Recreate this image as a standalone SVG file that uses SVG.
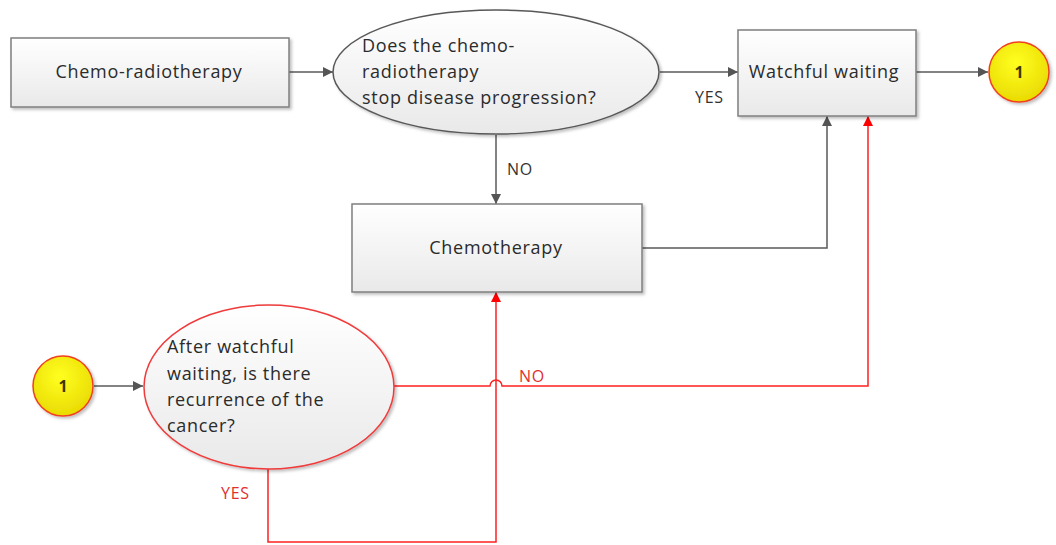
<svg xmlns="http://www.w3.org/2000/svg" width="1056" height="545" viewBox="0 0 1056 545">
  <defs>
    <linearGradient id="boxFill" x1="0" y1="0" x2="0" y2="1">
      <stop offset="0" stop-color="#ffffff"/>
      <stop offset="1" stop-color="#e9e9e9"/>
    </linearGradient>
    <radialGradient id="ballFill" cx="0.45" cy="0.35" r="0.7">
      <stop offset="0" stop-color="#ffff20"/>
      <stop offset="1" stop-color="#e8d800"/>
    </radialGradient>
    <filter id="shadow" x="-10%" y="-10%" width="130%" height="130%">
      <feDropShadow dx="2" dy="2" stdDeviation="1.5" flood-color="#000" flood-opacity="0.25"/>
    </filter>
    <marker id="arrGray" viewBox="0 0 10 10" refX="10" refY="5" markerWidth="10" markerHeight="10" markerUnits="userSpaceOnUse" orient="auto">
      <path d="M0,0 L10,5 L0,10 z" fill="#555"/>
    </marker>
    <marker id="arrRed" viewBox="0 0 10 10" refX="10" refY="5" markerWidth="10" markerHeight="10" markerUnits="userSpaceOnUse" orient="auto">
      <path d="M0,0 L10,5 L0,10 z" fill="#ff0000"/>
    </marker>
  </defs>
  <style>
    text { font-family: "Open Sans", "Liberation Sans", sans-serif; font-size: 18px; letter-spacing: 0.7px; fill: #2b2b2b; }
    .box { fill: url(#boxFill); stroke: #7f7f7f; stroke-width: 1.5; filter: url(#shadow); }
    .dec { fill: url(#boxFill); stroke: #595959; stroke-width: 1.5; filter: url(#shadow); }
    .decRed { fill: url(#boxFill); stroke: #ef3b3b; stroke-width: 1.5; filter: url(#shadow); }
    .ball { fill: url(#ballFill); stroke: #f04020; stroke-width: 1.5; filter: url(#shadow); }
    .ballTxt { font-weight: bold; font-size: 16px; letter-spacing: 0; fill: #3a3a00; }
    .c { text-anchor: middle; }
    .gray { fill: none; stroke: #5a5a5a; stroke-width: 1.5; }
    .red { fill: none; stroke: #ff2020; stroke-width: 1.5; }
    .lblGray { font-size: 16px; fill: #333; }
    .lblRed { font-size: 16px; fill: #e03030; }
  </style>

  <!-- connectors -->
  <g id="connectors">
    <path class="gray" d="M289,72 H333" marker-end="url(#arrGray)"/>
    <path class="gray" d="M660,72 H738" marker-end="url(#arrGray)"/>
    <path class="gray" d="M916,72 H988" marker-end="url(#arrGray)"/>
    <path class="gray" d="M496,135 V204" marker-end="url(#arrGray)"/>
    <path class="gray" d="M642,248 H827 V116" marker-end="url(#arrGray)"/>
    <path class="gray" d="M94,386 H143" marker-end="url(#arrGray)"/>
    <path class="red" d="M268,468 V542 H496 V292" marker-end="url(#arrRed)"/>
    <path class="red" d="M394,386 H490 A6,6 0 0 1 502,386 H868 V116" marker-end="url(#arrRed)"/>
    <text class="lblGray" x="695" y="103">YES</text>
    <text class="lblGray" x="507" y="175">NO</text>
    <text class="lblRed" x="519" y="382">NO</text>
    <text class="lblRed" x="221" y="499">YES</text>
  </g>

  <g id="chemoradiotherapy">
    <rect class="box" x="11" y="38" width="278" height="69"/>
    <text class="c" x="149" y="78">Chemo-radiotherapy</text>
  </g>

  <g id="decision-progression">
    <ellipse class="dec" cx="496" cy="72" rx="163" ry="62"/>
    <text x="362" y="52">Does the chemo-</text>
    <text x="362" y="78">radiotherapy</text>
    <text x="362" y="104">stop disease progression?</text>
  </g>

  <g id="watchful-waiting">
    <rect class="box" x="738" y="30" width="178" height="86"/>
    <text class="c" x="824" y="78">Watchful waiting</text>
  </g>

  <g id="connector-out">
    <circle class="ball" cx="1019" cy="72" r="30"/>
    <text class="c ballTxt" x="1019" y="78">1</text>
  </g>

  <g id="chemotherapy">
    <rect class="box" x="352" y="204" width="290" height="88"/>
    <text class="c" x="496" y="254">Chemotherapy</text>
  </g>

  <g id="connector-in">
    <circle class="ball" cx="63" cy="386" r="30"/>
    <text class="c ballTxt" x="63" y="392">1</text>
  </g>

  <g id="decision-recurrence">
    <ellipse class="decRed" cx="269" cy="387" rx="125" ry="82"/>
    <text x="167" y="353">After watchful</text>
    <text x="167" y="380">waiting, is there</text>
    <text x="167" y="406">recurrence of the</text>
    <text x="167" y="432">cancer?</text>
  </g>
</svg>
